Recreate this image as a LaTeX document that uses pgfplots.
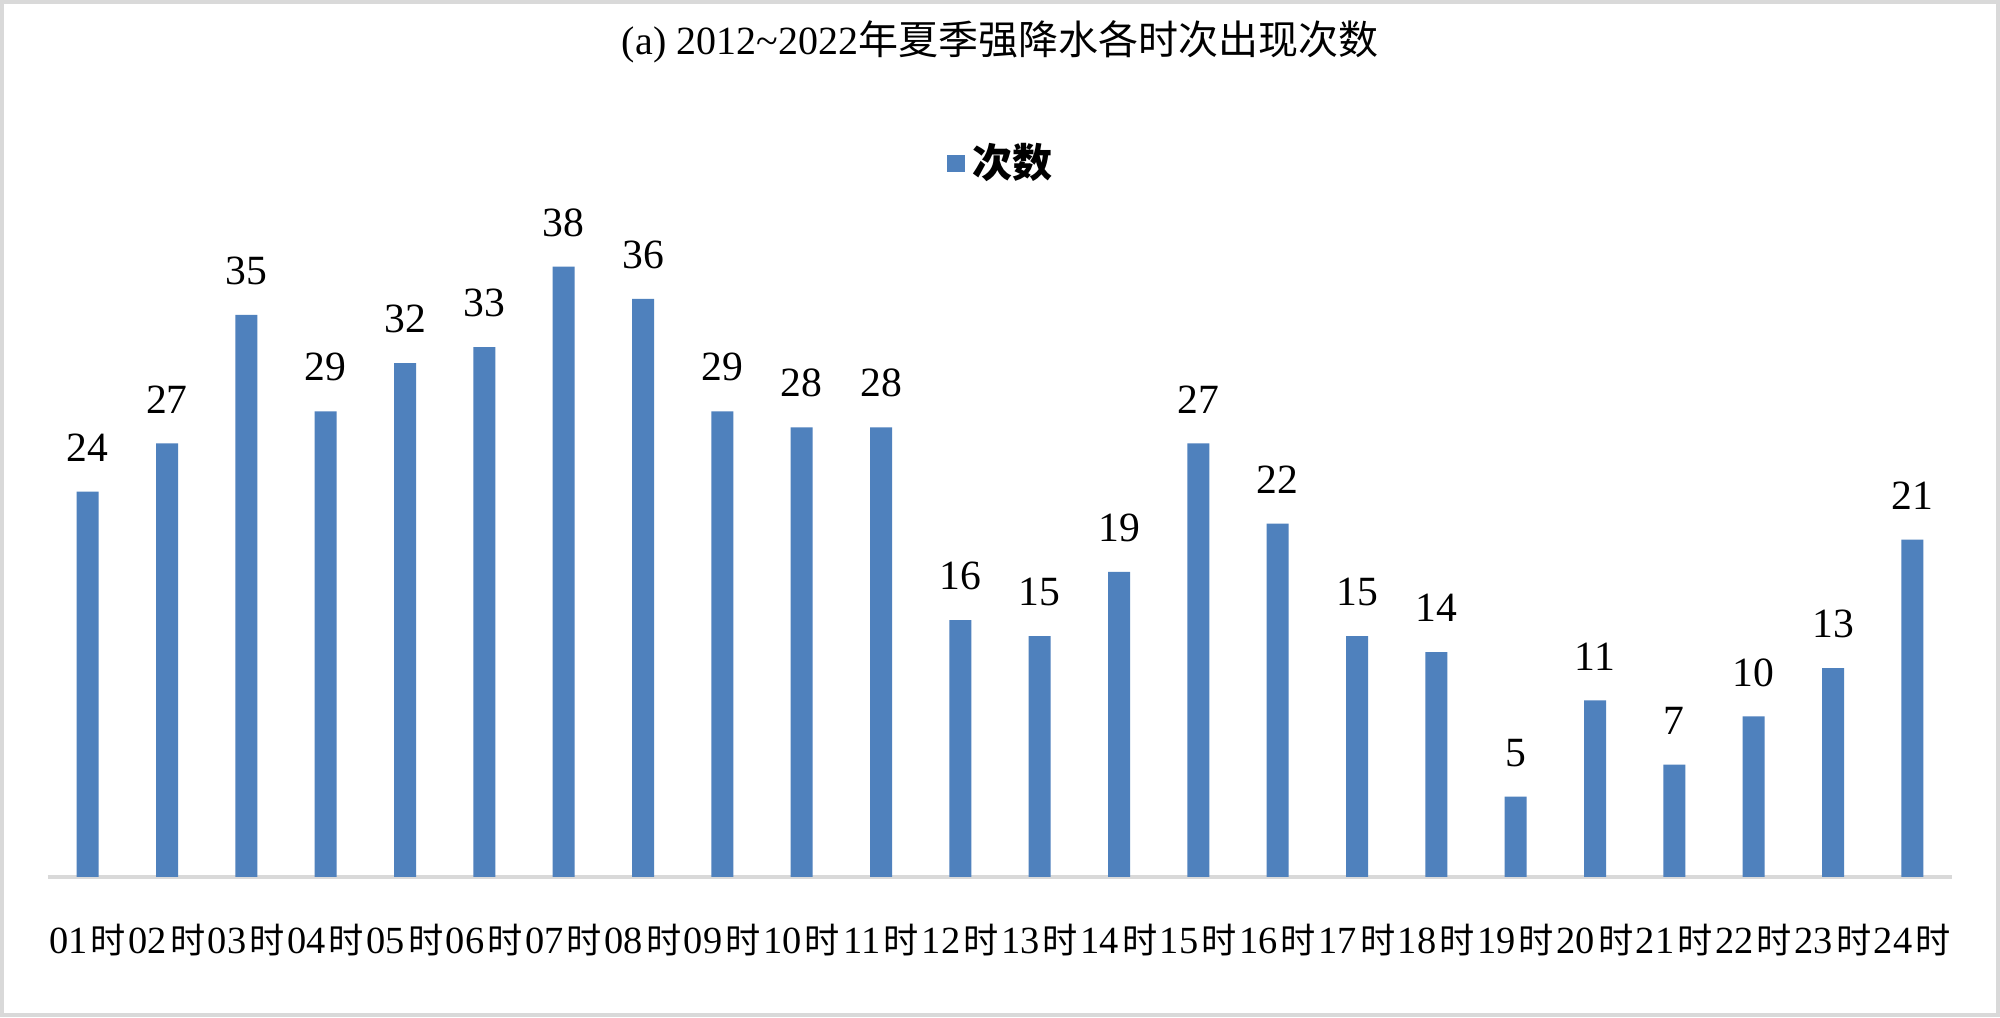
\documentclass[border=0pt]{standalone}
\usepackage{fontspec}
\setmainfont{Liberation Serif}
\newfontfamily\cjk{Noto Sans CJK SC}
\usepackage{pgfplots}
\pgfplotsset{compat=1.18}
\definecolor{barblue}{HTML}{4F81BD}
\definecolor{framegray}{HTML}{D9D9D9}
\newcommand\shi{\hspace{0.8pt}{\cjk\fontsize{8.8}{10}\selectfont 时}}
\begin{document}
\begin{tikzpicture}
\path[use as bounding box] (0,0) rectangle (500pt,254.25pt);
\fill[white] (0,0) rectangle (500pt,254.25pt);
\draw[framegray, line width=1pt] (0.5pt,0.5pt) rectangle (499.5pt,253.75pt);
\begin{axis}[
 at={(12pt,35pt)}, anchor=south west,
 scale only axis, width=476pt, height=160.6pt,
 xmin=-0.5, xmax=23.5, ymin=0, ymax=40,
 axis x line=bottom, axis y line=none,
 x axis line style={-, draw=framegray, line width=0.75pt},
 xtick=data,
 xticklabels={01\shi,02\shi,03\shi,04\shi,05\shi,06\shi,07\shi,08\shi,09\shi,10\shi,11\shi,12\shi,13\shi,14\shi,15\shi,16\shi,17\shi,18\shi,19\shi,20\shi,21\shi,22\shi,23\shi,24\shi},
 major tick length=0pt,
 xticklabel style={font=\fontsize{9.6}{11}\selectfont, anchor=center, yshift=-15.75pt},
 ybar, bar width=5.5pt,
 nodes near coords,
 nodes near coords style={font=\fontsize{10.4}{12}\selectfont, anchor=center, yshift=11pt},
 /pgf/number format/assume math mode=true,
 title={(a) 2012\textasciitilde2022{\cjk 年夏季强降水各时次出现次数}},
 title style={at={(0.5,1.2625)}, anchor=center, font=\fontsize{10}{12}\selectfont},
 legend style={at={(0.502,1.111)}, anchor=center, draw=none, fill=none, font=\fontsize{10}{12}\selectfont},
 legend image code/.code={\fill[barblue] (0pt,-2.2pt) rectangle (4.4pt,2.2pt);},
]
\addplot[fill=barblue, draw=none] coordinates {
(0,24) (1,27) (2,35) (3,29) (4,32) (5,33) (6,38) (7,36) (8,29) (9,28) (10,28) (11,16)
(12,15) (13,19) (14,27) (15,22) (16,15) (17,14) (18,5) (19,11) (20,7) (21,10) (22,13) (23,21)};
\addlegendentry{\cjk\bfseries 次数}
\end{axis}
\end{tikzpicture}
\end{document}
